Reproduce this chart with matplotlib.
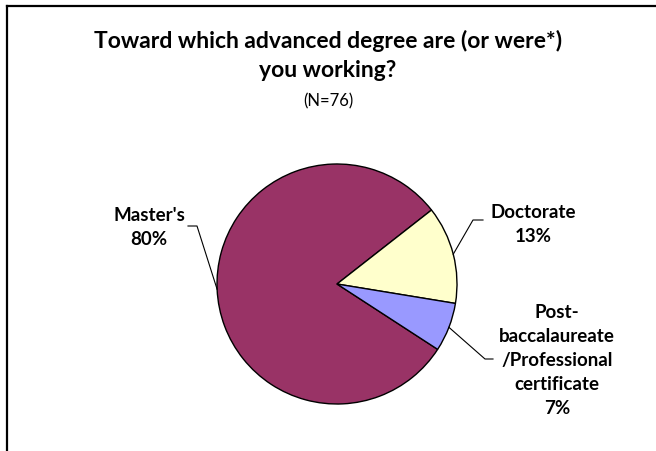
import numpy as np
import matplotlib
matplotlib.use('Agg')
import matplotlib.pyplot as plt
from matplotlib.lines import Line2D

# survey data (N=76)
labels = ["Master's", "Doctorate", "Post-\nbaccalaureate\n/Professional\ncertificate"]
counts = [61, 10, 5]
colors = ['#993366', '#FFFFCC', '#9999FF']
title = 'Toward which advanced degree are (or were*)\nyou working?'
subtitle = '(N=76)'

W, H = 656, 452
plt.rcParams['font.family'] = ['Lato', 'DejaVu Sans']

fig = plt.figure(figsize=(W / 100, H / 100), dpi=100)
ax = fig.add_axes([0, 0, 1, 1])

# frame (only left and top edge visible)
fig.add_artist(Line2D([7 / W, 7 / W], [0, 1 - 7 / H], color='black', lw=1.6))
fig.add_artist(Line2D([7 / W, 1], [1 - 7 / H, 1 - 7 / H], color='black', lw=1.6))

cx, cy, r = 337, H - 285, 120
wedges, _ = ax.pie(counts, colors=colors, startangle=-33, counterclock=False,
                   center=(cx, cy), radius=r, frame=True,
                   wedgeprops=dict(edgecolor='black', linewidth=1.0))
ax.set_xlim(0, W)
ax.set_ylim(0, H)
ax.axis('off')

pcts = [round(100 * c / sum(counts)) for c in counts]

# label centre, elbow point, line end near text
lab_pos = [(149, 228), (533, 225), (557, 361)]
elbows = [((197, 227), (188, 227)), ((473, 221), (483, 221)), ((485, 360), (493, 360))]

for w, lab, p, pos, (e1, e2) in zip(wedges, labels, pcts, lab_pos, elbows):
    ang = np.deg2rad((w.theta1 + w.theta2) / 2)
    px, py = cx + r * np.cos(ang), cy + r * np.sin(ang)
    ax.plot([px, e1[0], e2[0]], [py, H - e1[1], H - e2[1]], color='black', lw=0.8)
    ax.text(pos[0], H - pos[1], f'{lab}\n{p}%', ha='center', va='center',
            fontsize=13.5, fontweight='bold', linespacing=1.5)

fig.text(0.5, 1 - 30 / H, title, ha='center', va='top', fontsize=16.5,
         fontweight='bold', linespacing=1.45)
fig.text(0.5, 1 - 101 / H, subtitle, ha='center', va='center', fontsize=12)

fig.savefig('out.png', dpi=100)
